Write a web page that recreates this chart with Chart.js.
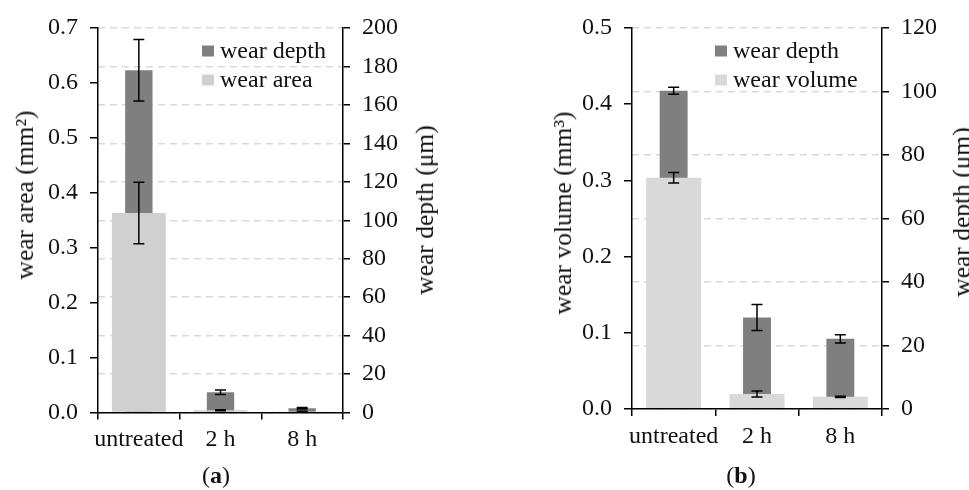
<!DOCTYPE html>
<html>
<head>
<meta charset="utf-8">
<script src="https://cdn.jsdelivr.net/npm/chart.js@4.4.0/dist/chart.umd.min.js"></script>
<style>
  html, body { margin: 0; padding: 0; background: #fff; }
  body { width: 969px; height: 490px; position: relative; overflow: hidden; font-family: 'Liberation Serif', serif; color: #111; }
  .panel { position: absolute; top: 0; height: 490px; }
  .vt { position: absolute; white-space: nowrap; font-size: 25.5px; transform: translate(-50%, -50%) rotate(-90deg); }
  .cap { position: absolute; font-size: 24px; transform: translate(-50%, -50%); }
</style>
</head>
<body>
<div class="panel" style="left:0;width:480px"><canvas id="chartA"></canvas></div>
<div class="panel" style="left:480px;width:489px"><canvas id="chartB"></canvas></div>

<div class="vt" style="left:25px;top:195px">wear area (mm²)</div>
<div class="vt" style="left:425px;top:210px">wear depth (μm)</div>
<div class="vt" style="left:563px;top:213px">wear volume (mm³)</div>
<div class="vt" style="left:962px;top:212px">wear depth (μm)</div>
<div class="cap" style="left:216px;top:475px">(<b>a</b>)</div>
<div class="cap" style="left:741px;top:475px">(<b>b</b>)</div>

<script>
    const categories = ['untreated', '2 h', '8 h'];

    // panel (a)
    const depthA = [178, 10.5, 2.2];
    const depthErrA = [16, 1.2, 0.4];
    const areaA = [0.363, 0.004, 0.002];
    const areaErrA = [0.056, 0.001, 0.0005];

    // panel (b)
    const depthB = [100.2, 28.8, 22.1];
    const depthErrB = [1.1, 4.1, 1.3];
    const volumeB = [0.3035, 0.0197, 0.016];
    const volumeErrB = [0.007, 0.004, 0.0008];

    const FONT = { family: 'Liberation Serif', size: 24 };
    const TXT = '#111';

    // error bars on top of the bars
    const errorBars = {
        id: 'errorBars',
        afterDatasetsDraw(chart) {
            const ctx = chart.ctx;
            ctx.save();
            ctx.strokeStyle = '#000';
            ctx.lineWidth = 1.5;
            chart.data.datasets.forEach((ds, i) => {
                const meta = chart.getDatasetMeta(i);
                const scale = chart.scales[ds.yAxisID];
                meta.data.forEach((bar, j) => {
                    const v = ds.data[j], e = ds.errors[j];
                    const y1 = scale.getPixelForValue(v + e);
                    const y2 = scale.getPixelForValue(v - e);
                    const x = bar.x;
                    ctx.beginPath();
                    ctx.moveTo(x, y1); ctx.lineTo(x, y2);
                    ctx.moveTo(x - 5.5, y1); ctx.lineTo(x + 5.5, y1);
                    ctx.moveTo(x - 5.5, y2); ctx.lineTo(x + 5.5, y2);
                    ctx.stroke();
                });
            });
            ctx.restore();
        }
    };

    // small legend in the top right of the plot
    const boxLegend = {
        id: 'boxLegend',
        afterDraw(chart, args, opts) {
            const ctx = chart.ctx;
            ctx.save();
            ctx.font = FONT.size + 'px ' + FONT.family;
            ctx.textBaseline = 'middle';
            opts.order.forEach((idx, k) => {
                const ds = chart.data.datasets[idx];
                const y = opts.y + k * opts.gap;
                ctx.fillStyle = ds.backgroundColor;
                ctx.fillRect(opts.x, y - 5.5, 12, 11);
                ctx.fillStyle = TXT;
                ctx.fillText(ds.label, opts.x + 18, y + 1);
            });
            ctx.restore();
        }
    };

    function makeConfig(p) {
        return {
            type: 'bar',
            data: {
                labels: categories,
                datasets: [{
                    label: p.lightLabel,
                    data: p.light,
                    errors: p.lightErr,
                    yAxisID: 'yL',
                    backgroundColor: p.lightColor,
                    grouped: false,
                    barPercentage: 0.66,
                    categoryPercentage: 1
                }, {
                    label: 'wear depth',
                    data: p.dark,
                    errors: p.darkErr,
                    yAxisID: 'yR',
                    backgroundColor: '#7f7f7f',
                    grouped: false,
                    barPercentage: 0.335,
                    categoryPercentage: 1
                }]
            },
            options: {
                responsive: false,
                animation: false,
                layout: { padding: { top: 28, left: 0, right: 0, bottom: 0 } },
                plugins: {
                    legend: { display: false },
                    tooltip: { enabled: false },
                    boxLegend: p.legend
                },
                scales: {
                    x: {
                        grid: { offset: true, drawOnChartArea: false, tickLength: 7, color: '#000', lineWidth: 1.5 },
                        border: { color: '#000', width: 1.5, z: 1 },
                        ticks: { font: FONT, color: TXT, padding: 6, maxRotation: 0, minRotation: 0, autoSkip: false },
                        afterFit(s) { s.height = p.xHeight; }
                    },
                    yL: {
                        position: 'left',
                        min: 0, max: p.lMax,
                        ticks: { stepSize: 0.1, font: FONT, color: TXT, padding: 12, callback: v => v.toFixed(1) },
                        grid: { drawOnChartArea: false, tickLength: 8, color: '#000', lineWidth: 1.5 },
                        border: { color: '#000', width: 1.5, z: 1 },
                        afterFit(s) { s.width = p.lWidth; }
                    },
                    yR: {
                        position: 'right',
                        min: 0, max: p.rMax,
                        ticks: { stepSize: 20, font: FONT, color: TXT, padding: 12 },
                        grid: { color: '#d9d9d9', lineWidth: 1.5, tickColor: '#000', tickLength: 7 },
                        border: { color: '#000', width: 1.5, dash: [7, 5], z: 1 },
                        afterFit(s) { s.width = p.rWidth; }
                    }
                }
            },
            plugins: [errorBars, boxLegend]
        };
    }

    const cA = document.getElementById('chartA');
    cA.width = 480; cA.height = 490;
    new Chart(cA, makeConfig({
        light: areaA, lightErr: areaErrA, lightLabel: 'wear area', lightColor: '#d0d0d0',
        dark: depthA, darkErr: depthErrA,
        lMax: 0.7, rMax: 200,
        lWidth: 98, rWidth: 137, xHeight: 77.5,
        legend: { x: 202, y: 51, gap: 29, order: [1, 0] }
    }));

    const cB = document.getElementById('chartB');
    cB.width = 489; cB.height = 490;
    new Chart(cB, makeConfig({
        light: volumeB, lightErr: volumeErrB, lightLabel: 'wear volume', lightColor: '#d9d9d9',
        dark: depthB, darkErr: depthErrB,
        lMax: 0.5, rMax: 120,
        lWidth: 152, rWidth: 87, xHeight: 81,
        legend: { x: 235, y: 51, gap: 29, order: [1, 0] }
    }));
</script>
</body>
</html>
